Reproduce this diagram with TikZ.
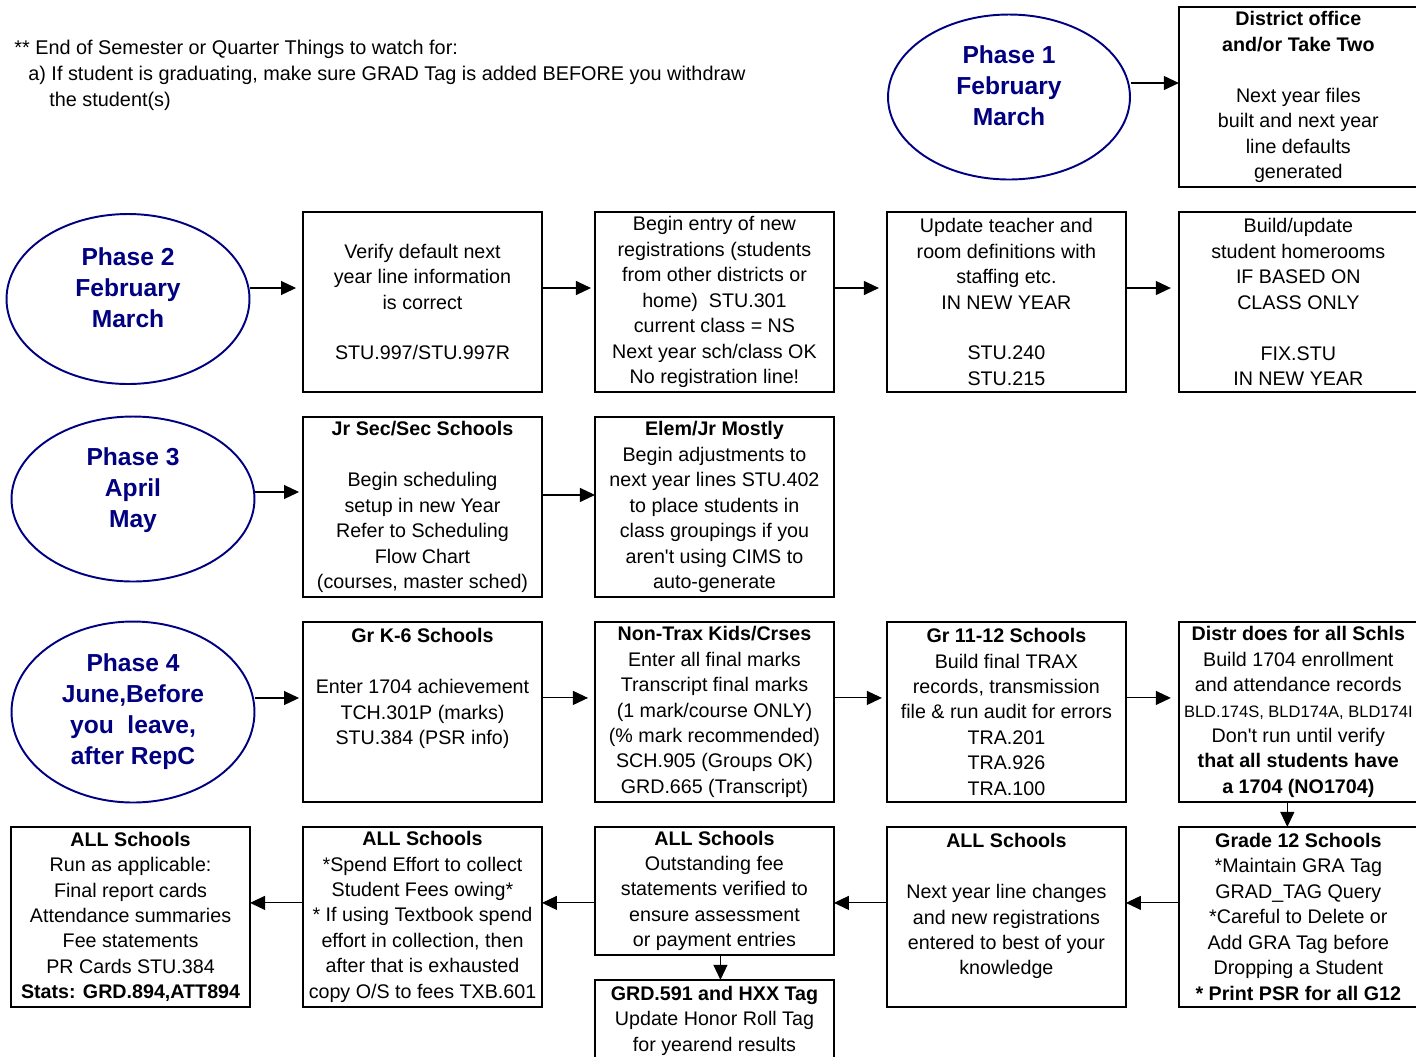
\documentclass[tikz,border=0pt]{standalone}
\usepackage{fontspec}
\setmainfont{Liberation Sans}
\usepackage{xcolor}
\usepackage{tikz}
\usetikzlibrary{shapes,arrows.meta,positioning}

\definecolor{phaseblue}{RGB}{0,0,128}

\begin{document}
\begin{tikzpicture}[x=0.02cm, y=-0.02cm, node distance=0.5cm and 1.06cm,
    stepbox/.style={rectangle, draw, line width=1.1pt, minimum width=4.78cm, minimum height=3.6cm, inner sep=0pt, outer sep=0pt, align=center, font=\fontsize{11.2}{14.5}\selectfont},
    phase/.style={ellipse, draw=phaseblue, line width=1.1pt, text=phaseblue, inner sep=0pt, align=center, font=\bfseries\fontsize{14}{17.6}\selectfont},
    arr/.style={-{Triangle[length=0.3cm,width=0.28cm]}, line width=0.6pt}]
    \useasboundingbox (0,0) rectangle (1416,1056);
    \clip (0,0) rectangle (1416,1056);

    \node (note) [anchor=north west, inner sep=0pt, align=left, font=\fontsize{11.3}{14.7}\selectfont] at (14,40) {** End of Semester or Quarter Things to watch for:\\\hspace*{0.28cm}a) If student is graduating, make sure GRAD Tag is added BEFORE you withdraw\\\hspace*{0.7cm}the student(s)};

    \node (ph1) [phase, minimum width=4.84cm, minimum height=3.3cm] at (1009,97) {Phase 1\\February\\March\\[-5pt]\mbox{}};
    \node (ph2) [phase, minimum width=4.86cm, minimum height=3.4cm] at (128,299) {Phase 2\\February\\March\\[-5pt]\mbox{}};
    \node (ph3) [phase, minimum width=4.86cm, minimum height=3.3cm] at (133,499) {Phase 3\\April\\May\\[-5pt]\mbox{}};
    \node (ph4) [phase, minimum width=4.86cm, minimum height=3.62cm] at (133,712) {Phase 4\\June,Before\\you~ leave,\\after RepC};

    \node (verify) [stepbox] at (422.5,302) {Verify default next\\year line information\\is correct\\ \\STU.997/STU.997R};
    \node (begin) [stepbox, right=of verify] {Begin entry of new\\registrations (students\\from other districts or\\home)~ STU.301\\current class = NS\\Next year sch/class OK\\No registration line!};
    \node (update) [stepbox, right=of begin] {Update teacher and\\room definitions with\\staffing etc.\\IN NEW YEAR\\ \\STU.240\\STU.215};
    \node (build) [stepbox, right=of update] {Build/update\\student homerooms\\IF BASED ON\\CLASS ONLY\\ \\FIX.STU\\IN NEW YEAR};
    \node (dist1) [stepbox, above=of build] {\textbf{District office}\\\textbf{and/or Take Two}\\ \\Next year files\\built and next year\\line defaults\\generated};

    \node (jrsec) [stepbox, below=of verify] {\textbf{Jr Sec/Sec Schools}\\ \\Begin scheduling\\setup in new Year\\Refer to Scheduling\\Flow Chart\\(courses, master sched)};
    \node (elem) [stepbox, right=of jrsec] {\textbf{Elem/Jr Mostly}\\Begin adjustments to\\next year lines STU.402\\to place students in\\class groupings if you\\aren\textquotesingle t using CIMS to\\auto-generate};

    \node (grk6) [stepbox, below=of jrsec] {\textbf{Gr K-6 Schools}\\ \\Enter 1704 achievement\\TCH.301P (marks)\\STU.384 (PSR info)\\ \\ };
    \node (nontrax) [stepbox, right=of grk6] {\textbf{Non-Trax Kids/Crses}\\Enter all final marks\\Transcript final marks\\(1 mark/course ONLY)\\(\% mark recommended)\\SCH.905 (Groups OK)\\GRD.665 (Transcript)};
    \node (gr1112) [stepbox, right=of nontrax] {\textbf{Gr 11-12 Schools}\\Build final TRAX\\records, transmission\\file \& run audit for errors\\TRA.201\\TRA.926\\TRA.100};
    \node (distr) [stepbox, right=of gr1112] {\textbf{Distr does for all Schls}\\Build 1704 enrollment\\and attendance records\\{\fontsize{9.4}{14.5}\selectfont BLD.174S, BLD174A, BLD174I}\\Don\textquotesingle t run until verify\\\textbf{that all students have}\\\textbf{a 1704 (NO1704)}};

    \node (allB) [stepbox, below=of grk6] {\textbf{ALL Schools}\\*Spend Effort to collect\\Student Fees owing*\\* If using Textbook spend\\effort in collection, then\\after that is exhausted\\copy O/S to fees TXB.601};
    \node (allA) [stepbox, left=of allB] {\textbf{ALL Schools}\\Run as applicable:\\Final report cards\\Attendance summaries\\Fee statements\\PR Cards STU.384\\\textbf{Stats: GRD.894,ATT894}};
    \node (allC) [stepbox, minimum height=2.56cm, below right=0cm and 1.06cm of allB.north east] {\textbf{ALL Schools}\\Outstanding fee\\statements verified to\\ensure assessment\\or payment entries};
    \node (allD) [stepbox, below=of gr1112] {\textbf{ALL Schools}\\ \\Next year line changes\\and new registrations\\entered to best of your\\knowledge\\ };
    \node (grade12) [stepbox, below=of distr] {\textbf{Grade 12 Schools}\\*Maintain GRA Tag\\GRAD\_TAG Query\\*Careful to Delete or\\Add GRA Tag before\\Dropping a Student\\\textbf{* Print PSR for all G12}};
    \node (grd591) [stepbox, minimum height=2.56cm, below=of allC] {\textbf{GRD.591 and HXX Tag}\\Update Honor Roll Tag\\for yearend results\\ \\ };

    \draw [arr] ([yshift=0.28cm]ph1.east) -- ([yshift=0.28cm]ph1.east -| dist1.west);

    \draw [arr, shorten >=0.14cm] ([yshift=0.22cm]ph2.east) -- ([yshift=0.22cm]ph2.east -| verify.west);
    \draw [arr, shorten >=0.08cm] ([yshift=0.28cm]verify.east) -- ([yshift=0.28cm]begin.west);
    \draw [arr, shorten >=0.16cm] ([yshift=0.28cm]begin.east) -- ([yshift=0.28cm]update.west);
    \draw [arr, shorten >=0.16cm] ([yshift=0.28cm]update.east) -- ([yshift=0.28cm]build.west);

    \draw [arr, shorten >=0.08cm] ([yshift=0.14cm]ph3.east) -- ([yshift=0.14cm]ph3.east -| jrsec.west);
    \draw [arr] ([yshift=0.24cm]jrsec.east) -- ([yshift=0.24cm]elem.west);

    \draw [arr, shorten >=0.08cm] ([yshift=0.28cm]ph4.east) -- ([yshift=0.28cm]ph4.east -| grk6.west);
    \draw [arr, shorten >=0.14cm] ([yshift=0.28cm]grk6.east) -- ([yshift=0.28cm]nontrax.west);
    \draw [arr, shorten >=0.1cm] ([yshift=0.28cm]nontrax.east) -- ([yshift=0.28cm]gr1112.west);
    \draw [arr, shorten >=0.16cm] ([yshift=0.28cm]gr1112.east) -- ([yshift=0.28cm]distr.west);
    \draw [arr] ([xshift=-0.22cm]distr.south) -- ([xshift=-0.22cm]distr.south |- grade12.north);

    \draw [arr] ([yshift=0.28cm]grade12.west) -- ([yshift=0.28cm]allD.east);
    \draw [arr] ([yshift=0.28cm]allD.west) -- ([yshift=0.28cm]allD.west -| allC.east);
    \draw [arr] ([yshift=0.28cm]allB.east -| allC.west) -- ([yshift=0.28cm]allB.east);
    \draw [arr] ([yshift=0.28cm]allB.west) -- ([yshift=0.28cm]allA.east);
    \draw [arr] ([xshift=0.12cm]allC.south) -- ([xshift=0.12cm]grd591.north);
\end{tikzpicture}
\end{document}
